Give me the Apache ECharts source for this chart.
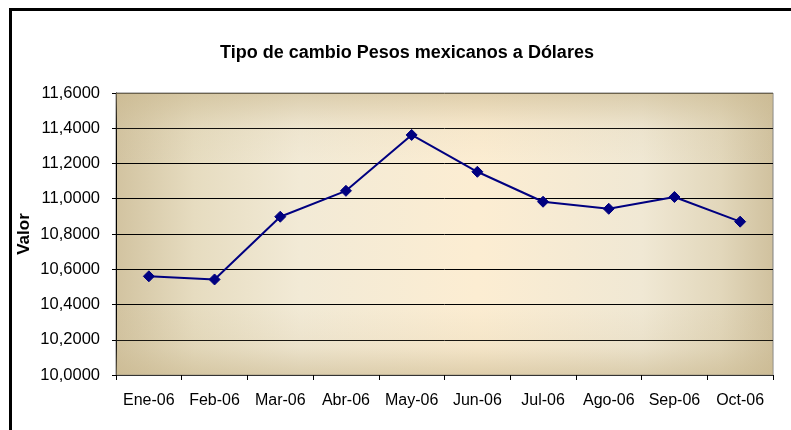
<!DOCTYPE html>
<html lang="es">
<head>
    <meta charset="UTF-8">
    <title>Tipo de cambio Pesos mexicanos a Dólares</title>
    <style>
        html, body { margin: 0; padding: 0; background: #ffffff; }
        #wrap { position: relative; width: 791px; height: 430px; overflow: hidden; }
        #frame { position: absolute; left: 9px; top: 8px; width: 800px; height: 440px; border-left: 3px solid #000; border-top: 3px solid #000; }
        #main { position: absolute; left: 0; top: 0; width: 791px; height: 430px; }
    </style>
</head>
<body>
<div id="wrap">
    <div id="frame"></div>
    <div id="main"></div>
</div>
<script src="https://cdn.jsdelivr.net/npm/echarts@6/dist/echarts.min.js"></script>
<script>
    // datos
    var meses = ['Ene-06', 'Feb-06', 'Mar-06', 'Abr-06', 'May-06', 'Jun-06', 'Jul-06', 'Ago-06', 'Sep-06', 'Oct-06'];
    var valores = [10.560, 10.542, 10.898, 11.045, 11.362, 11.153, 10.983, 10.943, 11.010, 10.870];
    var yMin = 10.0, yMax = 11.6, yPaso = 0.2;

    var fuente = 'Liberation Sans, Arial, sans-serif';
    var chart = echarts.init(document.getElementById('main'));

    var option = {
        animation: false,
        backgroundColor: 'transparent',
        title: {
            text: 'Tipo de cambio Pesos mexicanos a Dólares',
            left: 402,
            top: 39,
            textAlign: 'center',
            textStyle: { fontFamily: fuente, fontSize: 18, fontWeight: 'bold', color: '#000' }
        },
        grid: {
            left: 116,
            right: 18,
            top: 93,
            bottom: 55,
            show: true,
            borderColor: '#808080',
            borderWidth: 1,
            backgroundColor: {
                type: 'linear', x: 0, y: 0, x2: 1, y2: 0,
                colorStops: [
                    { offset: 0, color: '#d2c3a0' },
                    { offset: 0.12, color: '#e6dcc0' },
                    { offset: 0.28, color: '#f2ead6' },
                    { offset: 0.55, color: '#fcedd2' },
                    { offset: 0.8, color: '#f0e8d4' },
                    { offset: 0.92, color: '#e2d7bb' },
                    { offset: 1, color: '#d0c19e' }
                ]
            }
        },
        xAxis: {
            type: 'category',
            data: meses,
            boundaryGap: true,
            axisLine: { lineStyle: { color: '#333', width: 1 } },
            axisTick: { show: true, interval: 0, length: 5, lineStyle: { color: '#000' } },
            axisLabel: { interval: 0, hideOverlap: false, margin: 18, color: '#000', fontFamily: fuente, fontSize: 16 },
            splitLine: { show: false }
        },
        yAxis: {
            type: 'value',
            name: 'Valor',
            nameLocation: 'middle',
            nameGap: 83,
            nameMoveOverlap: false,
            nameRotate: 90,
            nameTextStyle: { fontFamily: fuente, fontSize: 17, fontWeight: 'bold', color: '#000' },
            min: yMin,
            max: yMax,
            interval: yPaso,
            axisLine: { show: true, lineStyle: { color: '#000', width: 1 } },
            axisTick: { show: true, length: 4, lineStyle: { color: '#000' } },
            axisLabel: {
                margin: 16,
                color: '#000',
                fontFamily: fuente,
                fontSize: 16.5,
                formatter: function (v) { return v.toFixed(4).replace('.', ','); }
            },
            splitLine: { show: true, lineStyle: { color: '#000', width: 1 } }
        },
        series: [{
            name: 'Valor',
            type: 'line',
            data: valores,
            symbol: 'diamond',
            symbolSize: 11,
            lineStyle: { color: '#000080', width: 2 },
            itemStyle: { color: '#000080', borderColor: '#000080' },
            markArea: {
                silent: true,
                itemStyle: {
                    color: {
                        type: 'linear', x: 0, y: 0, x2: 0, y2: 1,
                        colorStops: [
                            { offset: 0, color: 'rgba(200,182,140,0.55)' },
                            { offset: 0.12, color: 'rgba(200,182,140,0.1)' },
                            { offset: 0.25, color: 'rgba(200,182,140,0)' },
                            { offset: 0.75, color: 'rgba(200,182,140,0)' },
                            { offset: 0.9, color: 'rgba(200,182,140,0.15)' },
                            { offset: 1, color: 'rgba(200,182,140,0.55)' }
                        ]
                    }
                },
                data: [[{ yAxis: yMin }, { yAxis: yMax }]]
            }
        }]
    };
    chart.setOption(option);
</script>
</body>
</html>
